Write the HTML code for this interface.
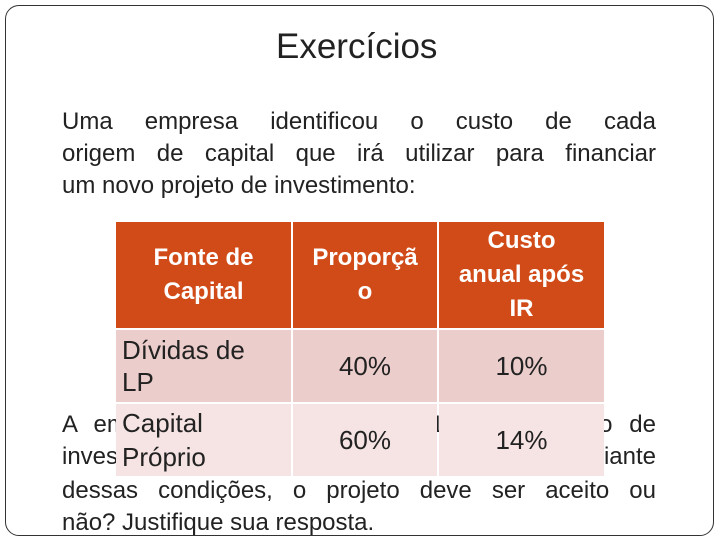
<!DOCTYPE html>
<html><head><meta charset="utf-8"><style>
body{margin:0;width:720px;height:540px;overflow:hidden;background:#fff;font-family:"Liberation Sans",sans-serif;position:relative}
.frame{position:absolute;left:5px;top:5px;width:709px;height:531px;border:1px solid #333;border-radius:14px;box-sizing:border-box}
.t{position:absolute;font-size:24px;color:#222;white-space:nowrap}
.j{position:absolute;left:62px;width:594px;font-size:24px;color:#222;text-align:justify;text-align-last:justify;white-space:nowrap;line-height:32px}
.jl{text-align-last:left}
table{position:absolute;left:116px;top:222px;border-collapse:separate;border-spacing:2px;margin:-2px}
td{font-size:26px;color:#222;padding:0;text-align:center;vertical-align:middle}
th{background:#D14B19;color:#fff;font-size:24px;font-weight:bold;height:106px;padding:0;line-height:34px}
</style></head><body>
<div class="frame"></div>
<div class="t" style="left:276px;top:27px;font-size:35px">Exercícios</div>
<div class="j" style="top:106px">Uma empresa identificou o custo de cada</div>
<div class="j" style="top:138px">origem de capital que irá utilizar para financiar</div>
<div class="j jl" style="top:170px">um novo projeto de investimento:</div>
<div class="j" style="top:409px">A empresa espera retorno de 12% do projeto de</div>
<div class="j" style="top:441px">investimento com o capital disponível. Diante</div>
<div class="j" style="top:475px">dessas condições, o projeto deve ser aceito ou</div>
<div class="j jl" style="top:507px">não? Justifique sua resposta.</div>
<table>
<tr><th style="width:175px">Fonte de<br>Capital</th><th style="width:144px">Proporçã<br>o</th><th style="width:165px">Custo<br>anual após<br>IR</th></tr>
<tr style="height:72px"><td style="text-align:left;padding-left:6px;line-height:32px;background:#EBCDCB">Dívidas de<br>LP</td><td style="background:#EBCDCB">40%</td><td style="background:#EBCDCB">10%</td></tr>
<tr style="height:72px"><td style="text-align:left;padding-left:6px;line-height:34px;background:#F5E4E3">Capital<br>Próprio</td><td style="background:#F5E4E3">60%</td><td style="background:#F5E4E3">14%</td></tr>
</table>
</body></html>
